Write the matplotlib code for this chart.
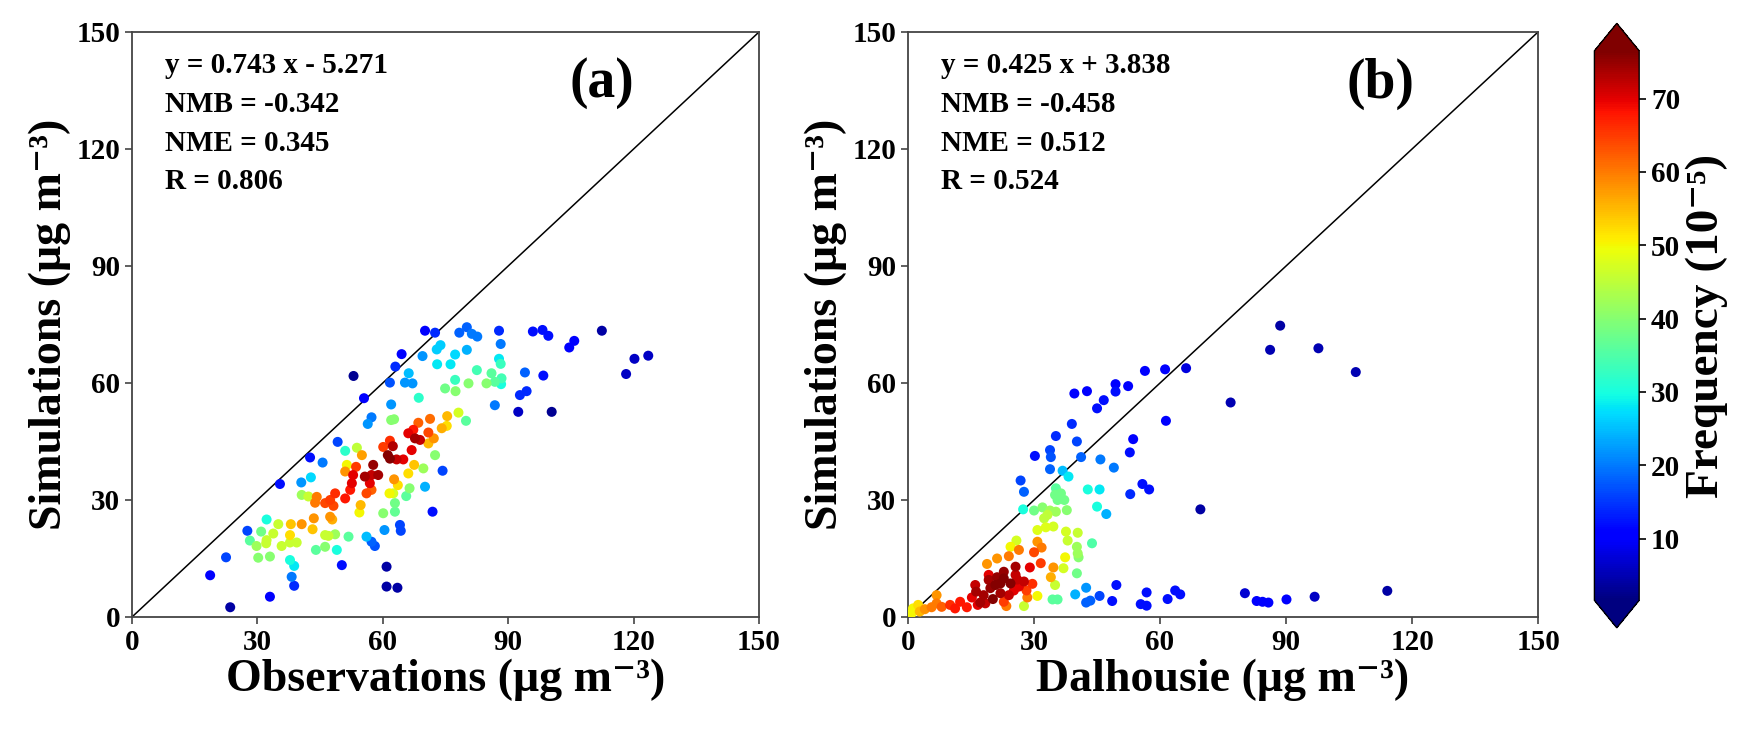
import numpy as np
import matplotlib
matplotlib.use("Agg")
import matplotlib.pyplot as plt
from matplotlib.colors import Normalize

plt.rcParams['font.family'] = ['Liberation Serif', 'DejaVu Serif']
plt.rcParams['font.weight'] = 'bold'
plt.rcParams['axes.unicode_minus'] = False

# panel (a): observations vs simulations, frequency (1e-5)
obs_a = [70.1, 64.5, 69.5, 63.0, 53.0, 66.2, 65.3, 67.1, 61.7, 68.6, 55.5, 62.0, 57.3, 56.4, 62.0,
         62.7, 68.5, 71.3, 67.3, 66.1, 67.7, 68.9, 66.9, 70.9, 70.9, 49.2, 51.0, 53.8, 55.0, 60.1,
         61.7, 62.4, 61.2, 61.7, 63.3, 64.9, 42.6, 45.6, 51.4, 53.6, 51.0, 57.7, 55.7, 57.3, 58.9,
         56.9, 52.9, 52.6, 52.2, 51.0, 48.6, 47.4, 46.2, 48.2, 44.2, 43.8, 40.6, 42.2, 40.5, 42.8,
         56.1, 57.3, 54.7, 54.4, 62.7, 63.6, 61.6, 62.5, 66.1, 67.5, 69.7, 66.4, 65.6, 70.1, 62.9,
         62.9, 60.1, 71.9, 60.4, 64.1, 64.3, 56.1, 57.3, 58.1, 51.8, 49.0, 50.2, 60.9, 60.9, 63.5,
         47.9, 47.4, 43.5, 40.6, 43.2, 38.0, 37.8, 35.0, 33.8, 32.2, 30.9, 32.2, 32.1, 35.8, 37.8,
         39.4, 29.8, 28.2, 27.6, 46.2, 47.0, 48.6, 46.2, 44.0, 33.0, 30.2, 37.8, 38.8, 38.2, 38.8,
         33.0, 23.5, 18.7, 22.5, 35.4,
         72.5, 78.3, 80.1, 81.3, 82.6, 87.8, 88.2, 95.9, 98.2, 99.6, 112.4, 105.8, 104.6, 120.2, 123.5,
         118.2, 72.9, 73.8, 77.3, 80.1, 73.0, 76.2, 82.5, 87.8, 88.2, 86.0, 77.3, 74.9, 77.4, 80.5,
         84.8, 86.8, 88.4, 88.3, 94.0, 98.4, 92.8, 94.4, 86.8, 92.4, 100.4, 75.4, 78.1, 79.9, 74.1,
         75.3, 72.2, 72.5, 74.3]
sim_a = [73.4, 67.4, 66.9, 64.2, 61.8, 62.5, 60.1, 59.9, 60.1, 56.2, 56.1, 54.5, 51.2, 49.5, 50.5,
         50.7, 49.8, 50.8, 48.0, 47.1, 45.8, 45.4, 42.8, 47.3, 44.5, 44.9, 42.6, 43.4, 41.5, 43.6,
         45.2, 43.8, 41.5, 40.6, 40.4, 40.4, 40.9, 39.6, 39.0, 38.5, 37.3, 39.0, 36.0, 36.4, 36.4,
         34.3, 36.4, 34.3, 32.6, 30.4, 31.7, 30.0, 29.2, 28.5, 30.8, 29.3, 31.3, 30.9, 34.5, 35.8,
         31.7, 32.6, 28.7, 26.8, 35.3, 33.8, 31.7, 31.7, 36.8, 39.0, 38.1, 33.0, 31.0, 33.4, 29.2,
         27.0, 26.6, 27.0, 22.3, 23.6, 22.1, 20.6, 19.3, 18.2, 20.6, 17.2, 13.3, 12.9, 7.8, 7.5,
         25.0, 25.7, 25.3, 23.8, 22.5, 23.8, 21.0, 23.8, 21.4, 25.0, 21.9, 19.7, 18.9, 18.2, 19.1,
         19.1, 18.2, 19.6, 22.1, 21.0, 20.8, 21.2, 18.0, 17.2, 15.5, 15.2, 14.6, 13.1, 10.3, 8.0,
         5.2, 2.5, 10.7, 15.3, 34.1,
         72.9, 72.9, 74.3, 72.6, 71.9, 73.4, 70.0, 73.2, 73.6, 72.1, 73.4, 70.8, 69.1, 66.2, 67.0,
         62.3, 68.6, 69.7, 67.3, 68.5, 64.8, 64.8, 63.3, 66.2, 64.9, 62.5, 60.8, 58.6, 57.9, 59.9,
         59.9, 60.3, 61.2, 59.7, 62.7, 61.9, 56.9, 57.9, 54.3, 52.6, 52.6, 51.5, 52.4, 50.3, 48.4,
         49.0, 45.8, 41.5, 37.5]
freq_a = [10, 10, 22, 14, 3, 25, 22, 22, 17, 32, 10, 22, 20, 22, 40,
          40, 62, 61, 68, 70, 74, 72, 70, 64, 55, 16, 32, 45, 57, 65,
          66, 73, 76, 76, 72, 70, 12, 20, 50, 65, 58, 75, 74, 72, 74,
          70, 70, 70, 68, 68, 66, 65, 64, 64, 60, 60, 42, 46, 22, 27,
          64, 62, 55, 50, 58, 52, 50, 47, 52, 54, 42, 40, 36, 24, 38,
          37, 40, 12, 22, 16, 16, 25, 18, 17, 36, 30, 12, 4, 4, 4,
          56, 58, 58, 58, 54, 54, 52, 46, 46, 30, 38, 46, 46, 46, 46,
          46, 42, 36, 16, 46, 46, 42, 40, 36, 40, 40, 30, 28, 20, 14,
          10, 4, 10, 16, 12,
          14, 18, 18, 20, 20, 14, 20, 12, 12, 12, 4, 10, 10, 6, 6,
          6, 26, 26, 27, 24, 28, 28, 34, 28, 33, 36, 33, 38, 40, 40,
          40, 36, 34, 30, 18, 12, 14, 14, 20, 6, 3, 55, 47, 36, 56,
          52, 58, 40, 16]

# panel (b): Dalhousie vs simulations
obs_b = [56.4, 49.4, 49.4, 52.4, 42.6, 39.6, 46.6, 45.0, 39.0, 35.2, 40.2, 53.6, 52.8, 33.8, 34.0,
         30.2, 33.8, 41.2, 45.8, 49.0, 36.8, 38.2, 26.8, 27.6, 55.8, 57.4, 52.9, 42.8, 45.6, 35.2,
         35.0, 36.4, 37.2, 35.6, 27.4, 30.0, 32.0, 33.8, 35.2, 33.2, 32.4, 37.8, 45.0, 47.2, 30.8,
         32.8, 34.6, 37.6, 40.4, 38.0, 40.2, 40.4, 40.6, 43.8, 37.4, 37.0, 40.2, 25.8, 24.4, 26.4,
         30.8, 31.8, 30.0, 21.2, 24.0, 18.8, 31.6, 34.6, 34.0, 35.0, 29.0, 25.6, 22.8, 19.2, 22.0,
         20.8, 19.6, 24.4, 26.0, 27.6, 29.6, 26.4, 16.0, 16.2, 18.0, 22.0, 24.0, 25.2, 22.8, 23.4,
         28.4, 30.8, 27.6, 34.4, 35.6, 39.8, 42.4, 42.4, 43.4, 45.6, 49.6, 48.6, 56.8, 55.4, 56.8,
         15.2, 17.2, 18.4, 14.0, 12.4, 10.0, 8.0, 6.8, 5.6, 6.8, 4.0, 2.4, 1.2, 0.8, 2.8,
         11.2, 16.6, 20.2, 19.2, 21.2, 22.8, 25.6, 28.2,
         88.6, 86.2, 97.7, 106.6, 61.2, 66.2, 76.8, 61.4, 69.6, 61.8, 63.6, 64.8, 80.2, 83.0, 84.4,
         85.8, 90.1, 96.8, 114.1]
sim_b = [63.1, 59.7, 57.8, 59.2, 57.9, 57.3, 55.6, 53.5, 49.5, 46.4, 45.0, 45.6, 42.2, 42.8, 41.0,
         41.3, 37.9, 41.0, 40.4, 38.3, 37.5, 36.0, 35.0, 32.1, 34.1, 32.7, 31.5, 32.7, 32.7, 33.0,
         31.3, 31.7, 30.0, 30.0, 27.6, 27.3, 28.1, 27.3, 27.0, 26.2, 25.3, 27.4, 28.3, 26.4, 22.3,
         23.0, 23.2, 21.9, 21.6, 19.6, 18.0, 16.3, 15.3, 18.9, 15.3, 12.5, 11.2, 19.6, 18.0, 17.2,
         19.3, 17.8, 16.6, 15.0, 15.6, 13.6, 13.8, 12.7, 10.2, 8.2, 12.7, 12.9, 11.6, 10.8, 8.6,
         8.2, 7.4, 8.6, 9.6, 9.1, 8.5, 7.8, 8.2, 6.5, 5.6, 6.1, 5.6, 6.8, 3.9, 2.8,
         5.0, 5.4, 2.8, 4.5, 4.5, 5.8, 7.5, 3.7, 4.2, 5.4, 8.2, 4.1, 6.3, 3.3, 2.9,
         5.0, 3.7, 3.5, 2.5, 3.9, 3.1, 2.6, 3.5, 2.5, 5.6, 2.0, 3.1, 2.2, 0.9, 1.4,
         2.2, 3.1, 4.6, 9.5, 10.2, 9.9, 10.8, 6.8,
         74.7, 68.5, 68.9, 62.8, 63.5, 63.8, 55.0, 50.3, 27.6, 4.6, 6.8, 5.8, 6.1, 4.1, 3.9,
         3.7, 4.5, 5.2, 6.7]
freq_b = [10, 10, 12, 10, 10, 10, 12, 12, 14, 14, 16, 10, 12, 16, 17,
          12, 18, 18, 20, 20, 25, 28, 16, 18, 12, 12, 14, 30, 28, 36,
          38, 38, 38, 38, 30, 38, 40, 42, 42, 45, 45, 40, 30, 24, 48,
          48, 47, 47, 46, 46, 42, 42, 40, 35, 50, 47, 38, 47, 50, 60,
          58, 60, 64, 58, 60, 58, 65, 58, 56, 46, 70, 74, 75, 70, 76,
          76, 75, 76, 72, 72, 66, 70, 72, 74, 74, 74, 72, 70, 65, 60,
          60, 50, 46, 36, 36, 24, 22, 18, 18, 16, 12, 12, 12, 12, 12,
          70, 74, 72, 68, 68, 66, 62, 60, 60, 58, 58, 52, 50, 50, 55,
          68, 70, 76, 74, 75, 76, 72, 65,
          4, 5, 5, 5, 10, 8, 5, 10, 4, 12, 12, 12, 7, 10, 10,
          10, 10, 6, 4]

stats_a = ["y = 0.743 x - 5.271", "NMB = -0.342", "NME = 0.345", "R = 0.806"]
stats_b = ["y = 0.425 x + 3.838", "NMB = -0.458", "NME = 0.512", "R = 0.524"]

norm = Normalize(vmin=1.6, vmax=76.5)
cmap = plt.get_cmap('jet')

fig = plt.figure(figsize=(17.55, 7.3), dpi=100)
ax1 = fig.add_axes([0.0752, 0.1548, 0.3573, 0.8014])
ax2 = fig.add_axes([0.5174, 0.1548, 0.3590, 0.8014])


def panel(ax, x, y, f, stats, tag, xlabel):
    x = np.array(x); y = np.array(y); f = np.array(f)
    order = np.argsort(f, kind='stable')
    sc = ax.scatter(x[order], y[order], c=f[order], cmap=cmap, norm=norm,
                    s=52, edgecolors='none', zorder=3)
    ax.plot([0, 150], [0, 150], color='black', lw=1.1, zorder=2)
    ax.set_xlim(0, 150)
    ax.set_ylim(0, 150)
    ax.set_xticks(range(0, 151, 30))
    ax.set_yticks(range(0, 151, 30))
    ax.tick_params(labelsize=21, length=5, width=1.2, color='#444444')
    for lab in ax.get_xticklabels() + ax.get_yticklabels():
        lab.set_fontweight('bold')
    for sp in ax.spines.values():
        sp.set_color('#444444')
        sp.set_linewidth(1.3)
    ax.set_xlabel(xlabel, fontsize=33, fontweight='bold', labelpad=2)
    ax.set_ylabel('Simulations (μg m⁻³)', fontsize=33, fontweight='bold', labelpad=4)
    for i, s in enumerate(stats):
        ax.text(0.053, 0.942 - i * 0.066, s, transform=ax.transAxes, fontsize=21,
                fontweight='bold', va='center', ha='left')
    ax.text(0.75, 0.912, tag, transform=ax.transAxes, fontsize=40, fontweight='bold',
            va='center', ha='center')
    return sc


sc = panel(ax1, obs_a, sim_a, freq_a, stats_a, '(a)', 'Observations (μg m⁻³)')
panel(ax2, obs_b, sim_b, freq_b, stats_b, '(b)', 'Dalhousie (μg m⁻³)')

cax = fig.add_axes([0.9085, 0.140, 0.0255, 0.828])
cb = fig.colorbar(sc, cax=cax, extend='both', extendfrac=0.05)
cb.set_ticks(range(10, 71, 10))
cb.ax.tick_params(labelsize=21, length=5, width=1.2)
for lab in cb.ax.get_yticklabels():
    lab.set_fontweight('bold')
cb.outline.set_linewidth(1.0)
cb.set_label('Frequency (10⁻⁵)', fontsize=34, fontweight='bold', labelpad=4)

fig.savefig('out.png', dpi=100)
